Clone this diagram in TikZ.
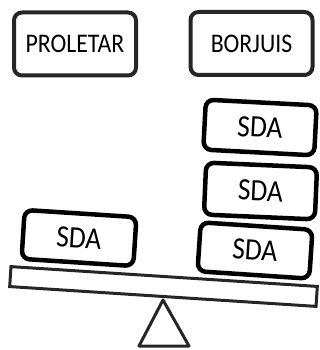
\documentclass[tikz,border=0pt]{standalone}
\usepackage{fontspec}
\usepackage{graphicx}
\setmainfont{Carlito}
\newcommand{\tallword}[1]{\scalebox{1}[1.13]{#1}}
\begin{document}
\begin{tikzpicture}[x=1pt,y=-1pt,
  classbox/.style={draw=black!85, line width=4pt, rounded corners=8pt, fill=white,
    minimum width=122pt, minimum height=63pt, inner sep=0pt, font=\fontsize{23.8}{24}\selectfont},
  weight/.style={draw=black, line width=4.5pt, rounded corners=8pt, fill=white,
    minimum width=112pt, minimum height=49pt, inner sep=0pt, font=\fontsize{27.5}{28}\selectfont},
  plank/.style={draw=black!85, line width=3pt, fill=white, minimum width=307pt,
    minimum height=20pt, inner sep=0pt, rotate=-3.7},
  fulcrum/.style={draw=black!85, line width=3pt, line join=round}]
\useasboundingbox (0,0) rectangle (320,350);
\node[classbox] (proletar) at (75,44) {\tallword{PROLETAR}};
\node[classbox] (borjuis) at (251.5,43.5) {\tallword{BORJUIS}};
\coordinate (apex) at (163,300);
\coordinate (baseL) at (139,346);
\coordinate (baseR) at (189,346);
\draw[fulcrum] (apex) -- (baseL) -- (baseR) -- cycle;
\node[plank] (beam) at (163.5,286.5) {};
\node[weight, rotate=-3.7] (left) at (79,238) {\tallword{SDA}};
\node[weight, rotate=-3.8] (r1) at (255,250.5) {\tallword{SDA}};
\node[weight, minimum width=111pt, minimum height=52pt, rotate=-2.5] (r2) at (260.5,191) {\tallword{SDA}};
\node[weight, minimum width=111pt, minimum height=50pt, rotate=-3] (r3) at (260,127.5) {\tallword{SDA}};
\end{tikzpicture}
\end{document}
